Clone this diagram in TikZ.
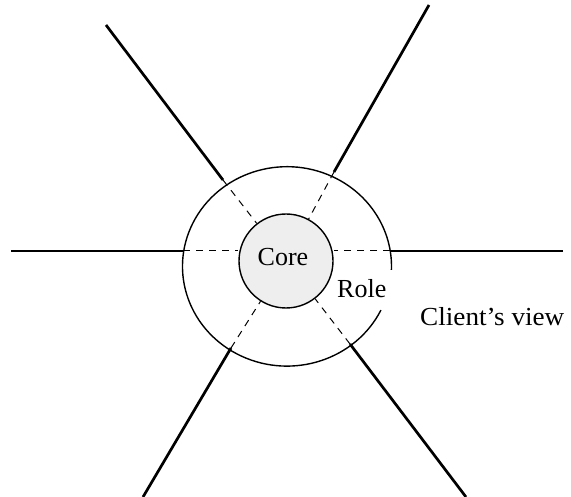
\documentclass[tikz,border=0pt]{standalone}
\usepackage{fontspec}
\setmainfont{Liberation Serif}
\begin{document}
\begin{tikzpicture}[x=1pt,y=-1pt,
  spoke/.style={line width=2.7pt},
  hidden/.style={line width=1pt, dash pattern=on 7pt off 6pt},
  ring/.style={line width=1.4pt},
  lbl/.style={inner sep=0pt, anchor=base west, font=\fontsize{26}{30}\selectfont}]
\definecolor{coregray}{RGB}{238,238,238}
\useasboundingbox (0,0) rectangle (571,497);
% outer ring (role) with a gap on the right
\coordinate (O) at (287,266.4);
\draw[ring] (O) ++(26:104.5 and 99.7) arc[start angle=26, end angle=362, x radius=104.5, y radius=99.7];
% core
\node[circle, draw, ring, fill=coregray, minimum size=94pt, inner sep=0pt] (core) at (286,261) {};
\node[lbl] (coretext) at (257.5,266) {Core};
\node[lbl] (role) at (337,297.5) {Role};
\node[lbl, xscale=1.045] (client) at (420,325.5) {Client’s view};
% outer ends of spokes
\coordinate (eTL) at (106,25);
\coordinate (eTR) at (429,5);
\coordinate (eBL) at (143,497);
\coordinate (eBR) at (466,497);
\coordinate (eL) at (11,251);
\coordinate (eR) at (563,251);
% points on the outer ring
\coordinate (rTL) at (223,180);
\coordinate (rTR) at (334,172);
\coordinate (rBL) at (231,348);
\coordinate (rBR) at (350,344);
\coordinate (rL) at (183,251);
\coordinate (rR) at (390,251);
% spokes
\foreach \s in {TL,TR,BL,BR,L,R} \draw[spoke] (e\s) -- (r\s);
% hidden parts
\foreach \s in {TL,TR,BL,BR} \draw[hidden] (r\s) -- (core);
\draw[hidden] (rL) -- (rL -| core.west);
\draw[hidden] (rR) -- (rR -| core.east);
\end{tikzpicture}
\end{document}
